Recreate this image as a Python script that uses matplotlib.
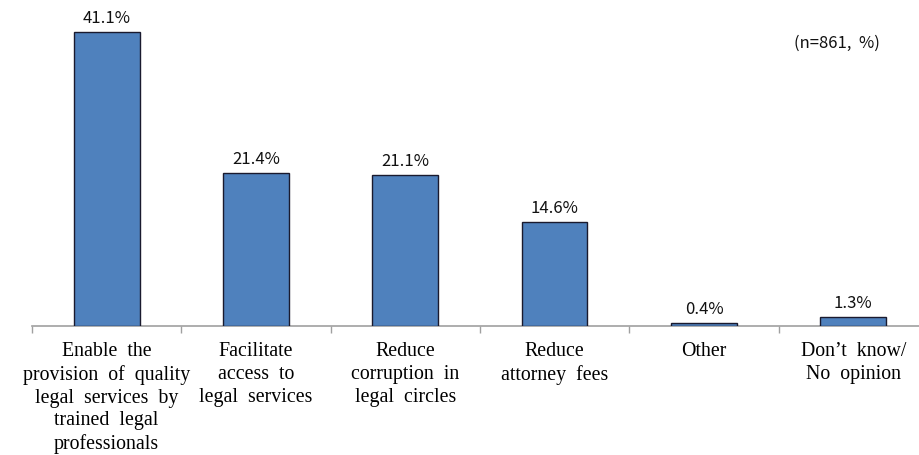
import matplotlib.pyplot as plt

categories = [
    "Enable  the\nprovision  of  quality\nlegal  services  by\ntrained  legal\nprofessionals",
    "Facilitate\naccess  to\nlegal  services",
    "Reduce\ncorruption  in\nlegal  circles",
    "Reduce\nattorney  fees",
    "Other",
    "Don\u2019t  know/\nNo  opinion",
]
values = [41.1, 21.4, 21.1, 14.6, 0.4, 1.3]
value_labels = ["41.1%", "21.4%", "21.1%", "14.6%", "0.4%", "1.3%"]
note = "(n=861,  %)"

label_font = ['Noto Sans CJK KR', 'DejaVu Sans']
cat_font = ['Liberation Serif', 'DejaVu Serif']

fig = plt.figure(figsize=(9.19, 4.56), dpi=100)
ax = fig.add_axes([32 / 919, 1 - 327 / 456, 1 - 32 / 919, 327 / 456])

x = list(range(len(values)))
ax.bar(x, values, width=0.44, color='#4F81BD', edgecolor='#1A1A2E', linewidth=1.0, zorder=3)

for xi, v, lab in zip(x, values, value_labels):
    ax.text(xi, v + 0.8, lab, ha='center', va='bottom', fontsize=12, family=label_font, color='#111111')

ax.set_xlim(-0.5, 5.44)
ax.set_ylim(0, 45.7)

# category boundaries get the tick marks, labels sit under the bars
ax.set_xticks([i - 0.5 for i in range(len(values))])
ax.set_xticklabels([])
ax.set_xticks(x, minor=True)
ax.set_xticklabels(categories, minor=True, family=cat_font, fontsize=14.3, linespacing=1.26)
ax.tick_params(axis='x', which='major', length=5, color='#A0A0A0', width=1)
ax.tick_params(axis='x', which='minor', length=0, pad=11)

ax.set_yticks([])
for side in ['top', 'right', 'left']:
    ax.spines[side].set_visible(False)
ax.spines['bottom'].set_color('#A0A0A0')
ax.spines['bottom'].set_linewidth(1.2)

fig.text(880 / 919, 1 - 43 / 456, note, ha='right', va='center', fontsize=12, family=label_font, color='#111111')

fig.savefig('out.png', dpi=100)
